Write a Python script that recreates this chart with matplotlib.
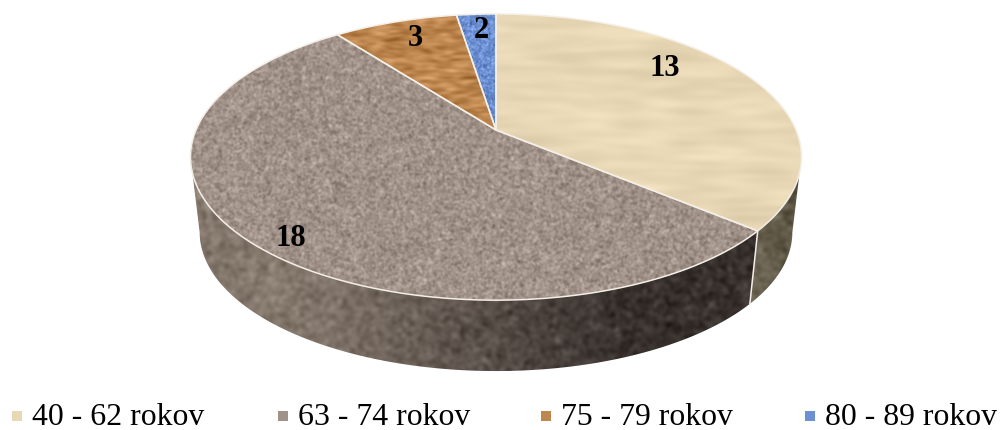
import numpy as np
import matplotlib
matplotlib.use('Agg')
import matplotlib.pyplot as plt
from matplotlib.colors import to_rgb
from matplotlib.patches import Polygon

# data
vek = ['40 - 62 rokov', '63 - 74 rokov', '75 - 79 rokov', '80 - 89 rokov']
pocty = [13, 18, 3, 2]
# shares as drawn in the picture (percent), they differ a bit from the labels
podiely = [36.1, 53.5, 7.9, 2.5]

farby = ['#e9d8b6', '#a09289', '#bf8750', '#6c90d2']
sila_sumu = [0.014, 0.04, 0.04, 0.05]
zrno = [(2.5, 14.0), (1.0, 1.0), (1.2, 4.0), (0.7, 0.7)]
bok_vlavo = ['#6f6856', '#85786d', '#85786d', '#85786d']
bok_vpravo = ['#575040', '#38312e', '#38312e', '#38312e']

W, H = 1001, 430
CX, CY = 496, 130      # meeting point of the slices
RX, RY, K = 300, 138, 0.189   # tilted disc seen in perspective
SPODOK_S, SPODOK_Y = 0.97, 206
rng = np.random.default_rng(5)  # only for the surface texture


def disk(uhol, s=1.0, cy=CY):
    a = np.radians(uhol)
    x, y = np.sin(a), np.cos(a)
    d = 1 + K * y
    return np.column_stack([CX + s * RX * x / d, cy - s * RY * y / d])


def sum_textura(sy, sx):
    # gaussian smoothed noise, normalised to std 1
    n = rng.normal(size=(H, W))
    fy = np.fft.fftfreq(H)[:, None]
    fx = np.fft.rfftfreq(W)[None, :]
    g = np.exp(-2 * np.pi ** 2 * ((fy * sy) ** 2 + (fx * sx) ** 2))
    n = np.fft.irfft2(np.fft.rfft2(n) * g, s=(H, W))
    return n / n.std()


def kresli_texturu(ax, rgb, cesta, zorder):
    im = ax.imshow(np.clip(rgb, 0, 1), extent=(0, W, H, 0), aspect='auto',
                   interpolation='bilinear', zorder=zorder)
    p = Polygon(cesta, closed=True, transform=ax.transData)
    im.set_clip_path(p)


fig = plt.figure(figsize=(W / 100, H / 100), dpi=100)
ax = fig.add_axes([0, 0, 1, 1])

uhly = np.concatenate([[0], np.cumsum(podiely)]) / 100 * 360
VIDITELNE = (100.9, 259.1)   # silhouette of the disc, the wall shows between them

xx = np.arange(W) / W
for i, (u0, u1) in enumerate(zip(uhly[:-1], uhly[1:])):
    # side wall
    a0, a1 = max(u0, VIDITELNE[0]), min(u1, VIDITELNE[1])
    if a1 > a0:
        t = np.linspace(a0, a1, 120)
        stena = np.vstack([disk(t), disk(t[::-1], SPODOK_S, SPODOK_Y)])
        if i == 0:
            sx0, sx1 = 0.75, 0.80
        else:
            sx0, sx1 = 0.30, 0.62
        v = np.clip((xx - sx0) / (sx1 - sx0), 0, 1)[None, :, None]
        c0, c1 = np.array(to_rgb(bok_vlavo[i])), np.array(to_rgb(bok_vpravo[i]))
        farba = c0 * (1 - v) + c1 * v
        kresli_texturu(ax, farba + 0.028 * sum_textura(2.0, 2.0)[:, :, None], stena, 2)

    # top of the slice
    t = np.linspace(u0, u1, 200)
    vrch = np.vstack([[CX, CY], disk(t)])
    sy, sx = zrno[i]
    text = sila_sumu[i] * sum_textura(sy, sx)[:, :, None]
    kresli_texturu(ax, np.array(to_rgb(farby[i])) + text, vrch, 3)

# white rim and dividers
for i, (u0, u1) in enumerate(zip(uhly[:-1], uhly[1:])):
    t = np.linspace(u0, u1, 200)
    ax.add_patch(Polygon(np.vstack([[CX, CY], disk(t)]), closed=True, fill=False,
                         ec='#f4efe6', lw=1.1, zorder=4))
hrana = np.vstack([disk(np.array([uhly[1]])), disk(np.array([uhly[1]]), SPODOK_S, SPODOK_Y)])
ax.plot(hrana[:, 0], hrana[:, 1], color='#f4efe6', lw=1.1, zorder=4)

# value labels
popisy_xy = [(665, 69), (291, 239), (415, 38), (481, 30)]
for n, (x, y) in zip(pocty, popisy_xy):
    ax.text(x, y, str(n), family='Liberation Serif', weight='bold', fontsize=22,
            color='black', ha='center', va='center', zorder=5)

# legend
legenda_x = [17, 283, 546, 810]
for meno, f, x in zip(vek, farby, legenda_x):
    ax.scatter([x], [416], marker='s', s=52, color=f, linewidths=0, zorder=5)
    ax.text(x + 15, 425, meno, family='Liberation Serif', fontsize=22.9,
            color='black', ha='left', va='baseline', zorder=5)

ax.set_xlim(0, W)
ax.set_ylim(H, 0)
ax.axis('off')
fig.savefig('out.png', dpi=100, facecolor='white')
